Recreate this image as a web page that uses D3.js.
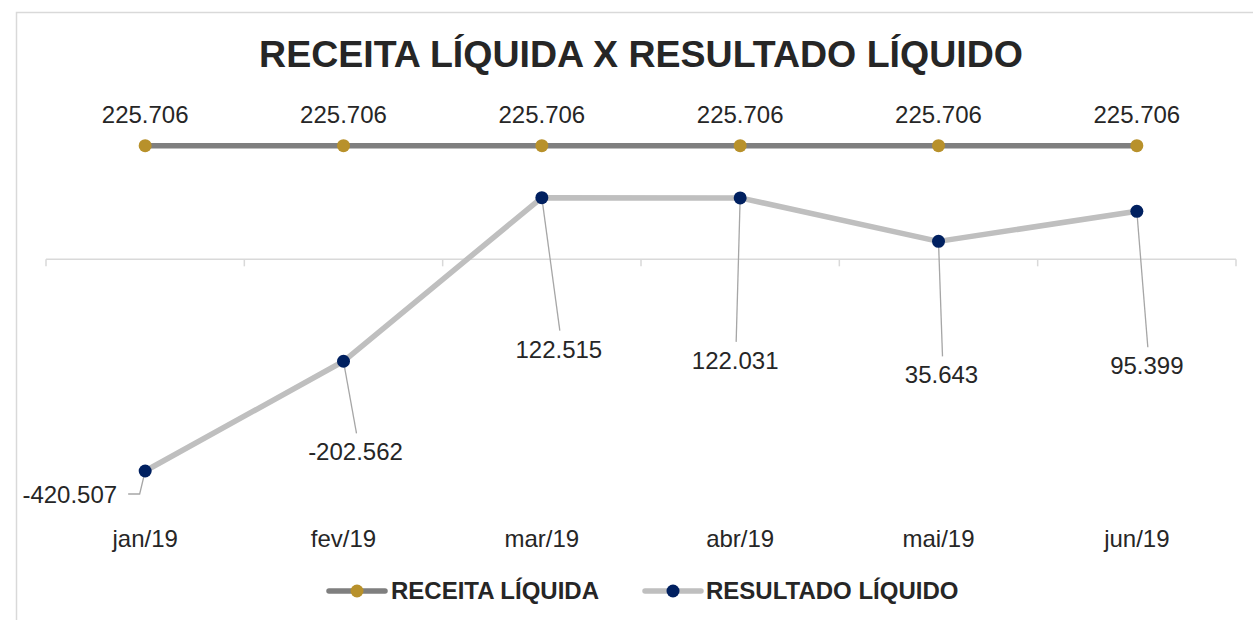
<!DOCTYPE html>
<html><head><meta charset="utf-8">
<script src="https://cdn.jsdelivr.net/npm/d3@7"></script>
<style>html,body{margin:0;padding:0;background:#fff;}svg{display:block;}</style>
</head><body>
<svg id="chart" width="1253" height="620"></svg>
<script>
const categories = ["jan/19","fev/19","mar/19","abr/19","mai/19","jun/19"];
const receitaLiquida = [225.706,225.706,225.706,225.706,225.706,225.706];
const resultadoLiquido = [-420.507,-202.562,122.515,122.031,35.643,95.399];
const seriesNames = ["RECEITA LÍQUIDA","RESULTADO LÍQUIDO"];
const titleText = "RECEITA LÍQUIDA X RESULTADO LÍQUIDO";

// label layout offsets (from data point): dx, dy of label baseline
const resLabelOffsets = [
  {dx:-28, dy:32, anchor:"end", elbow:true},
  {dx:12, dy:99},
  {dx:17, dy:160},
  {dx:-5, dy:171},
  {dx:3, dy:142},
  {dx:10, dy:163}
];

const fmt = v => {
  const s = Math.abs(v).toFixed(3);
  return (v < 0 ? "-" : "") + s;
};

const svg = d3.select("#chart");
const font = "'Liberation Sans', Arial, sans-serif";
const textColor = "#262626";
const fs = 24;

// border
svg.append("rect").attr("x",16.5).attr("y",12.5).attr("width",1300).attr("height",700)
  .attr("fill","none").attr("stroke","#d9d9d9").attr("stroke-width",1.5);

// title
svg.append("text").attr("x",641).attr("y",67).attr("text-anchor","middle")
  .attr("font-family",font).attr("font-weight","bold").attr("font-size",37.5)
  .attr("fill",textColor).text(titleText);

const x = d3.scaleBand().domain(categories).range([46,1236]);
const cx = c => x(c) + x.bandwidth()/2;
const y = d3.scaleLinear().domain([-500,300]).range([511,108.3]);

// axis at zero
const axisG = svg.append("g").attr("transform",`translate(0,${y(0)})`);
axisG.append("line").attr("x1",46).attr("x2",1236).attr("stroke","#d9d9d9").attr("stroke-width",1.5);
const tickXs = categories.map(c => x(c)).concat([x(categories[categories.length-1]) + x.bandwidth()]);
axisG.selectAll("line.tick").data(tickXs).join("line").attr("class","tick")
  .attr("x1",d=>d).attr("x2",d=>d).attr("y1",0).attr("y2",7)
  .attr("stroke","#d9d9d9").attr("stroke-width",1.5);

// category labels
svg.selectAll("text.cat").data(categories).join("text").attr("class","cat")
  .attr("x",d=>cx(d)).attr("y",547).attr("text-anchor","middle")
  .attr("font-family",font).attr("font-size",fs).attr("fill",textColor).text(d=>d);

const line = d3.line().x((d,i)=>cx(categories[i])).y(d=>y(d));

// receita
svg.append("path").datum(receitaLiquida).attr("d",line).attr("fill","none")
  .attr("stroke","#7f7f7f").attr("stroke-width",5.5);
// resultado
svg.append("path").datum(resultadoLiquido).attr("d",line).attr("fill","none")
  .attr("stroke","#bfbfbf").attr("stroke-width",5.5).attr("stroke-linejoin","round");

// leader lines
resultadoLiquido.forEach((v,i) => {
  const px = cx(categories[i]), py = y(v);
  const o = resLabelOffsets[i];
  if (o.elbow) {
    svg.append("polyline")
      .attr("points",`${px},${py} ${px-5.5},${py+23} ${px-17},${py+23}`)
      .attr("fill","none").attr("stroke","#a6a6a6").attr("stroke-width",1.3);
  } else {
    svg.append("line").attr("x1",px).attr("y1",py)
      .attr("x2",px+o.dx+1).attr("y2",py+o.dy-27)
      .attr("stroke","#a6a6a6").attr("stroke-width",1.3);
  }
});

// markers
svg.selectAll("circle.rec").data(receitaLiquida).join("circle").attr("class","rec")
  .attr("cx",(d,i)=>cx(categories[i])).attr("cy",d=>y(d)).attr("r",6.5).attr("fill","#b8912b");
svg.selectAll("circle.res").data(resultadoLiquido).join("circle").attr("class","res")
  .attr("cx",(d,i)=>cx(categories[i])).attr("cy",d=>y(d)).attr("r",6.5).attr("fill","#002060");

// labels
svg.selectAll("text.recl").data(receitaLiquida).join("text").attr("class","recl")
  .attr("x",(d,i)=>cx(categories[i])).attr("y",d=>y(d)-23).attr("text-anchor","middle")
  .attr("font-family",font).attr("font-size",fs).attr("fill",textColor).text(fmt);
svg.selectAll("text.resl").data(resultadoLiquido).join("text").attr("class","resl")
  .attr("x",(d,i)=>cx(categories[i]) + resLabelOffsets[i].dx)
  .attr("y",(d,i)=>y(d) + resLabelOffsets[i].dy)
  .attr("text-anchor",(d,i)=>resLabelOffsets[i].anchor || "middle")
  .attr("font-family",font).attr("font-size",fs).attr("fill",textColor).text(fmt);

// legend
const legend = [
  {name:seriesNames[0], line:"#7f7f7f", dot:"#b8912b", x0:329, x1:385, tx:391},
  {name:seriesNames[1], line:"#bfbfbf", dot:"#002060", x0:645, x1:701, tx:706}
];
const ly = 591;
legend.forEach(l => {
  svg.append("line").attr("x1",l.x0).attr("x2",l.x1).attr("y1",ly).attr("y2",ly)
    .attr("stroke",l.line).attr("stroke-width",5.5).attr("stroke-linecap","round");
  svg.append("circle").attr("cx",(l.x0+l.x1)/2).attr("cy",ly).attr("r",6.5).attr("fill",l.dot);
  svg.append("text").attr("x",l.tx).attr("y",ly+8).attr("font-family",font)
    .attr("font-weight","bold").attr("font-size",fs).attr("fill",textColor).text(l.name);
});
</script>
</body></html>
